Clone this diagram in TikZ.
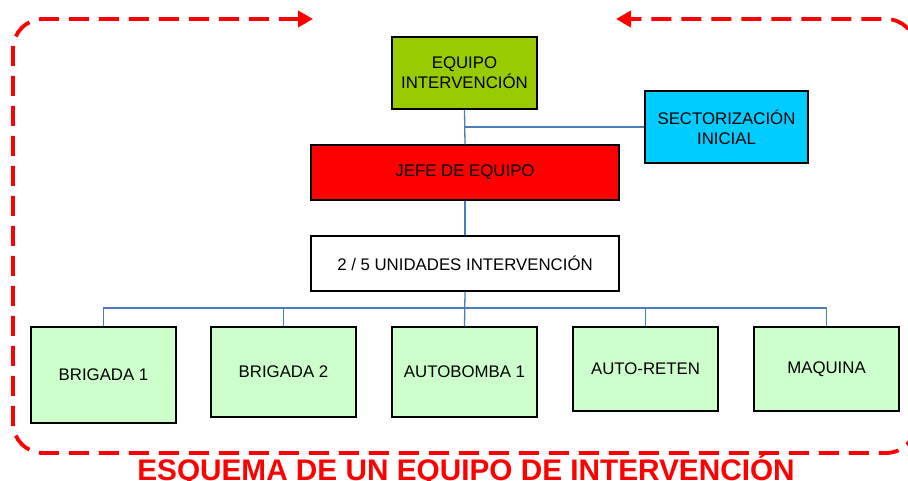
\documentclass[tikz,border=0pt]{standalone}
\usepackage{fontspec}
\setmainfont{Liberation Sans}
\usetikzlibrary{arrows.meta}
\definecolor{eqgreen}{HTML}{99CC00}
\definecolor{seccyan}{HTML}{00CCFF}
\definecolor{lightgr}{HTML}{CCFFCC}
\definecolor{linkblue}{HTML}{4A7EBB}
\tikzset{
  orgbox/.style={draw=black, line width=1.3pt, inner sep=2pt, align=center,
    font=\fontsize{16.8}{20}\selectfont},
  unitbox/.style={orgbox, fill=lightgr, minimum width=145pt},
  link/.style={draw=linkblue, line width=1.3pt},
  loop/.style={draw=red, line width=3.8pt, dash pattern=on 20pt off 10pt,
    rounded corners=30pt, {Triangle[length=15pt,width=16pt]}-{Triangle[length=15pt,width=16pt]}},
}
\begin{document}
\begin{tikzpicture}[x=1pt,y=-1pt]
\useasboundingbox (0,0) rectangle (908,481);
\clip (0,0) rectangle (908,481);
\node[orgbox, fill=eqgreen, minimum width=145pt, minimum height=72pt] (eq) at (464.5,73) {EQUIPO\\INTERVENCIÓN};
\node[orgbox, fill=seccyan, minimum width=163pt, minimum height=72pt] (sec) at (726.5,127) {SECTORIZACIÓN\\INICIAL};
\node[orgbox, fill=red, minimum width=308pt, minimum height=55pt] (jefe) at (465,172.5) {JEFE DE EQUIPO};
\node[orgbox, fill=white, minimum width=308pt, minimum height=55pt] (uni) at (465,263.5) {2 / 5 UNIDADES INTERVENCIÓN};
\node[unitbox, minimum height=96pt] (b1) at (103.5,375) {BRIGADA 1};
\node[unitbox, minimum height=90pt] (b2) at (283.5,372) {BRIGADA 2};
\node[unitbox, minimum height=90pt] (ab) at (464.5,372) {AUTOBOMBA 1};
\node[unitbox, minimum height=84pt] (ar) at (645.5,369) {AUTO-RETEN};
\node[unitbox, minimum height=84pt] (mq) at (826.5,369) {MAQUINA};
\coordinate (bus) at (465,308);
\coordinate (la) at (313,19);
\coordinate (lb) at (616,19);
% connectors
\draw[link] (eq.south) -- (jefe.north);
\draw[link] (eq.south |- sec.west) -- (sec.west);
\draw[link] (jefe.south) -- (uni.north);
\draw[link] (uni.south) -- (ab.north);
\draw[link] (b1.north) -- (b1.north |- bus) -- (mq.north |- bus) -- (mq.north);
\draw[link] (b2.north) -- (b2.north |- bus);
\draw[link] (ar.north) -- (ar.north |- bus);
% dashed loop
\draw[loop] (la) -- (13,19) -- (13,453) -- (916,453) -- (916,19) -- (lb);
% title
\node[text=red, font=\fontsize{29.75}{32}\selectfont\bfseries, anchor=base, inner sep=0pt] (title) at (466,480) {ESQUEMA DE UN EQUIPO DE INTERVENCIÓN};
\end{tikzpicture}
\end{document}
